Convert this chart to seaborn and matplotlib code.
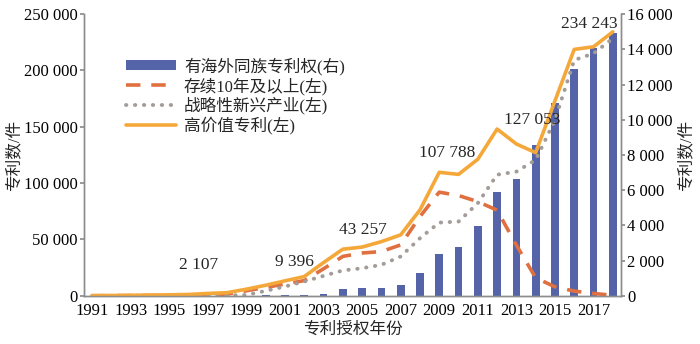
import numpy as np
import pandas as pd
import matplotlib
matplotlib.use("Agg")
import matplotlib.pyplot as plt
from matplotlib.ticker import FuncFormatter, MultipleLocator, FixedLocator, FixedFormatter
from matplotlib.lines import Line2D
from matplotlib.patches import Patch
import seaborn as sns

years = list(range(1991, 2019))
# 有海外同族专利权 (right axis)
overseas = [0, 0, 0, 0, 0, 0, 0, 0, 10, 20, 30, 50, 80, 380, 420, 454, 600,
            1323, 2384, 2763, 3991, 5883, 6658, 8550, 10934, 12864, 14055, 14908]
# 存续10年及以上 (left axis)
long_lived = [100, 150, 200, 300, 400, 500, 700, 1500, 4500, 7500, 10500, 13500,
              24000, 35000, 38000, 39300, 45200, 70300, 92000, 89000, 83600, 76000,
              45000, 16000, 8000, 4200, 2100, 500]
# 战略性新兴产业 (left axis)
strategic = [50, 80, 100, 150, 200, 250, 300, 400, 800, 4400, 8250, 12700,
             17700, 22500, 24500, 27500, 34900, 51100, 65000, 65900, 82200, 107500,
             110200, 120600, 156000, 209200, 215100, 228400]
# 高价值专利 (left axis)
high_value = [200, 300, 500, 700, 900, 1200, 2107, 2800, 5900, 9396, 13300, 17100,
              29500, 41400, 43257, 48100, 54100, 76200, 109600, 107788, 121200, 148000,
              134750, 127053, 173000, 218700, 221000, 234243]

label_texts = ["2 107", "9 396", "43 257", "107 788", "127 053", "234 243"]
label_x = [5.5, 10.5, 14.05, 18.4, 22.8, 25.8]
label_y = [27500, 30100, 58500, 126500, 156000, 241100]

xtick_labels = [str(y) for y in range(1991, 2018, 2)]

sns.set_theme(style="white")
plt.rcParams['font.family'] = ['Liberation Serif', 'Noto Sans CJK SC']
plt.rcParams['axes.unicode_minus'] = False

c_bar = "#5563A8"
c_dash = "#E07040"
c_dot = "#A39C98"
c_solid = "#F5A83A"

fig = plt.figure(figsize=(7.0, 3.44), dpi=100)
ax = fig.add_axes([0.12, 0.14, 0.767, 0.819])
ax2 = ax.twinx()

x = np.arange(len(years))
df = pd.DataFrame({"x": x, "year": years, "overseas": overseas,
                   "long": long_lived, "strat": strategic, "high": high_value})

sns.barplot(data=df, x="x", y="overseas", ax=ax2, color=c_bar, width=0.4,
            saturation=1, native_scale=True, edgecolor="none")

sns.lineplot(data=df, x="x", y="long", ax=ax, color=c_dash, lw=2.6,
             dashes=False, linestyle=(0, (4, 3)))
sns.lineplot(data=df, x="x", y="strat", ax=ax, color=c_dot, lw=2.8,
             dashes=False, linestyle=(0, (0.1, 2.2)), solid_capstyle="round",
             dash_capstyle="round")
sns.lineplot(data=df, x="x", y="high", ax=ax, color=c_solid, lw=2.6)

ax.set_zorder(ax2.get_zorder() + 1)
ax.patch.set_visible(False)

ax.set_ylim(0, 250000)
ax2.set_ylim(0, 16000)

fmt = FuncFormatter(lambda v, p: f"{int(v):,}".replace(",", " "))
ax.yaxis.set_major_locator(MultipleLocator(50000))
ax2.yaxis.set_major_locator(MultipleLocator(2000))
ax.yaxis.set_major_formatter(fmt)
ax2.yaxis.set_major_formatter(fmt)

ax.xaxis.set_major_locator(FixedLocator(np.arange(0, 27, 2)))
ax.xaxis.set_major_formatter(FixedFormatter(xtick_labels))
ax.set_xlim(-0.42, 27.42)

for a in (ax, ax2):
    for s in a.spines.values():
        s.set_color("#8c8c8c")
        s.set_linewidth(1.0)
    a.spines["top"].set_visible(False)
    a.tick_params(labelsize=12, colors="black")
ax.tick_params(axis="y", which="major", left=True, length=3, color="#8c8c8c", pad=1.5)
ax.tick_params(axis="x", length=0, pad=5, labelbottom=True)
ax2.tick_params(axis="y", which="major", right=True, length=3, color="#8c8c8c", pad=1.5)
ax2.set_xlabel("")

ax.set_xlabel("专利授权年份", fontsize=12, labelpad=2)
ax.set_ylabel("专利数/件", fontsize=12, labelpad=1)
ax2.set_ylabel("专利数/件", fontsize=12, labelpad=4, rotation=90)

for t, lx, ly in zip(label_texts, label_x, label_y):
    ax.text(lx, ly, t, ha="center", va="center", fontsize=12.5)

handles = [Patch(facecolor=c_bar, edgecolor="none"),
           Line2D([], [], color=c_dash, lw=2.6, linestyle=(0, (4, 3))),
           Line2D([], [], color=c_dot, lw=2.8, linestyle=(0, (0.1, 2.2)),
                  dash_capstyle="round"),
           Line2D([], [], color=c_solid, lw=2.6)]
labels = ["有海外同族专利权(右)", "存续10年及以上(左)", "战略性新兴产业(左)", "高价值专利(左)"]
ax.legend(handles, labels, loc="upper left", bbox_to_anchor=(0.065, 0.87),
          frameon=False, fontsize=12, handlelength=3.0, handleheight=0.55,
          labelspacing=0.12, borderaxespad=0, handletextpad=0.5)

fig.savefig("out.png", dpi=100)
